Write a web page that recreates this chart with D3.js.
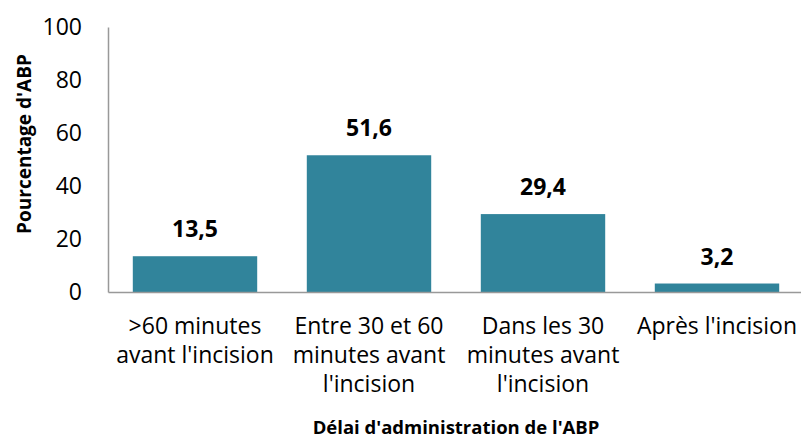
<!DOCTYPE html>
<html>
<head>
<meta charset="utf-8">
<script src="https://cdn.jsdelivr.net/npm/d3@7"></script>
<style>
  body { margin: 0; background: #fff; }
  text { font-family: "Open Sans", sans-serif; }
</style>
</head>
<body>
<div id="main"></div>
<script>
const categories = [
    [">60 minutes", "avant l'incision"],
    ["Entre 30 et 60", "minutes avant", "l'incision"],
    ["Dans les 30", "minutes avant", "l'incision"],
    ["Après l'incision"]
];
const values = [13.5, 51.6, 29.4, 3.2];
const yTicks = [0, 20, 40, 60, 80, 100];
const yTitle = "Pourcentage d'ABP";
const xTitle = "Délai d'administration de l'ABP";

const width = 801, height = 439;
const margin = {left: 108, top: 27, right: -3, bottom: 147};
const font = '"Open Sans", sans-serif';

let svg = d3.select("#main").append("svg")
    .attr("width", width)
    .attr("height", height);

let scaleX = d3.scaleBand()
    .domain(d3.range(values.length))
    .range([margin.left, width - margin.right])
    .paddingInner(0.285)
    .paddingOuter(0.1425);
let scaleY = d3.scaleLinear().domain([0, 100]).range([height - margin.bottom, margin.top]);

// bars
svg.selectAll(".bar")
    .data(values)
    .enter().append("rect")
    .attr("class", "bar")
    .attr("x", (d, i) => scaleX(i))
    .attr("y", d => scaleY(d))
    .attr("width", scaleX.bandwidth())
    .attr("height", d => scaleY(0) - scaleY(d))
    .attr("fill", "#31849b");

// value labels
svg.selectAll(".val")
    .data(values)
    .enter().append("text")
    .attr("class", "val")
    .attr("x", (d, i) => scaleX(i) + scaleX.bandwidth() / 2)
    .attr("y", d => scaleY(d) - 19)
    .attr("text-anchor", "middle")
    .attr("font-size", 23)
    .attr("font-weight", "bold")
    .attr("fill", "#000")
    .text(d => String(d).replace(".", ","));

// y axis
let yAxis = svg.append("g")
    .attr("transform", "translate(" + margin.left + ",0)")
    .call(d3.axisLeft(scaleY).tickValues(yTicks).tickSize(0).tickPadding(26));
yAxis.select(".domain").attr("stroke", "#999").attr("stroke-width", 1.5);
yAxis.selectAll("text").attr("font-size", 23).attr("fill", "#000")
    .style("font-family", font);

// x axis line
let xAxis = svg.append("g")
    .attr("transform", "translate(0," + scaleY(0) + ")")
    .call(d3.axisBottom(scaleX).tickSize(0).tickFormat(""));
xAxis.select(".domain").attr("stroke", "#999").attr("stroke-width", 1.5);

// category labels
let cat = svg.selectAll(".cat")
    .data(categories)
    .enter().append("text")
    .attr("class", "cat")
    .attr("text-anchor", "middle")
    .attr("font-size", 23)
    .attr("fill", "#000");
cat.selectAll("tspan")
    .data((d, i) => d.map(s => ({s: s, i: i})))
    .enter().append("tspan")
    .attr("x", d => scaleX(d.i) + scaleX.bandwidth() / 2)
    .attr("y", (d, j) => scaleY(0) + 42 + j * 29)
    .text(d => d.s);

// axis titles
svg.append("text")
    .attr("transform", "translate(31,144) rotate(-90)")
    .attr("text-anchor", "middle")
    .attr("font-size", 19)
    .attr("font-weight", "bold")
    .text(yTitle);

svg.append("text")
    .attr("x", 456)
    .attr("y", 434)
    .attr("text-anchor", "middle")
    .attr("font-size", 18.5)
    .attr("font-weight", "bold")
    .text(xTitle);
</script>
</body>
</html>
